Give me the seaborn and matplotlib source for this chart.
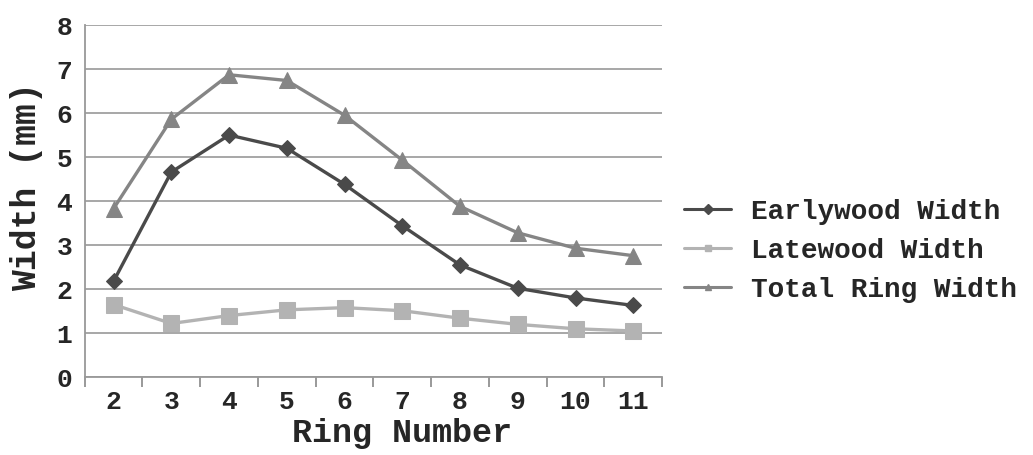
import matplotlib
matplotlib.use("Agg")
import matplotlib.pyplot as plt
from matplotlib.lines import Line2D
import seaborn as sns
import pandas as pd

rings = [2, 3, 4, 5, 6, 7, 8, 9, 10, 11]
earlywood = [2.18, 4.66, 5.50, 5.20, 4.38, 3.44, 2.55, 2.02, 1.80, 1.63]
latewood = [1.65, 1.22, 1.40, 1.53, 1.58, 1.51, 1.34, 1.20, 1.10, 1.05]
total = [3.83, 5.86, 6.87, 6.74, 5.95, 4.93, 3.88, 3.28, 2.93, 2.76]

series = ["Earlywood Width", "Latewood Width", "Total Ring Width"]
colors = ["#4a4a4a", "#b3b3b3", "#858585"]
markers = ["D", "s", "^"]
sizes = [8.5, 11, 11]

df = pd.DataFrame({"Ring": rings, series[0]: earlywood,
                   series[1]: latewood, series[2]: total})
long = df.melt(id_vars="Ring", var_name="Series", value_name="Width")

sns.set_style("white")
plt.rcParams["font.family"] = ["Liberation Mono", "DejaVu Sans"]
plt.rcParams["font.weight"] = "bold"

fig = plt.figure(figsize=(10.33, 4.55), dpi=100)
ax = fig.add_axes([0.082, 0.171, 0.559, 0.774])

for name, c, m, ms in zip(series, colors, markers, sizes):
    sub = long[long["Series"] == name]
    sns.lineplot(data=sub, x="Ring", y="Width", ax=ax, color=c, marker=m,
                 markersize=ms, markeredgecolor=c, linewidth=2.4, legend=False)

ax.set_xlim(1.5, 11.5)
ax.set_ylim(0, 8)
ax.set_yticks(range(0, 9))
ax.set_yticks([0], minor=True)
ax.set_xticks(rings)
ax.set_xticks([r - 0.5 for r in rings] + [11.5], minor=True)
ax.tick_params(axis="x", which="major", length=0, pad=9, labelsize=19)
ax.tick_params(axis="x", which="minor", length=7, width=1.2, color="#888888",
               direction="out", bottom=True)
ax.tick_params(axis="y", which="major", length=0, pad=9, labelsize=19)
ax.tick_params(axis="y", which="minor", length=7, width=1.2, color="#888888",
               direction="out", left=True)
for lab in ax.get_xticklabels() + ax.get_yticklabels():
    lab.set_fontweight("bold")

ax.yaxis.grid(True, color="#a0a0a0", linewidth=1.3)
ax.set_axisbelow(True)
for s in ["top", "right"]:
    ax.spines[s].set_visible(False)
for s in ["left", "bottom"]:
    ax.spines[s].set_color("#999999")
    ax.spines[s].set_linewidth(1.3)

ax.set_xlabel("Ring Number", fontsize=24, fontweight="bold")
ax.xaxis.set_label_coords(0.55, -0.115)
ax.set_ylabel("Width (mm)", fontsize=25, fontweight="bold")
ax.yaxis.set_label_coords(-0.072, 0.54)

handles = [Line2D([], [], color=c, marker=m, markersize=5, linewidth=2.2)
           for c, m in zip(colors, markers)]
leg = ax.legend(handles, series, loc="center left", bbox_to_anchor=(0.995, 0.358),
                frameon=False, fontsize=20, handlelength=1.7,
                handletextpad=0.7, labelspacing=0.47)
for t in leg.get_texts():
    t.set_fontweight("bold")

fig.savefig("out.png", dpi=100)
